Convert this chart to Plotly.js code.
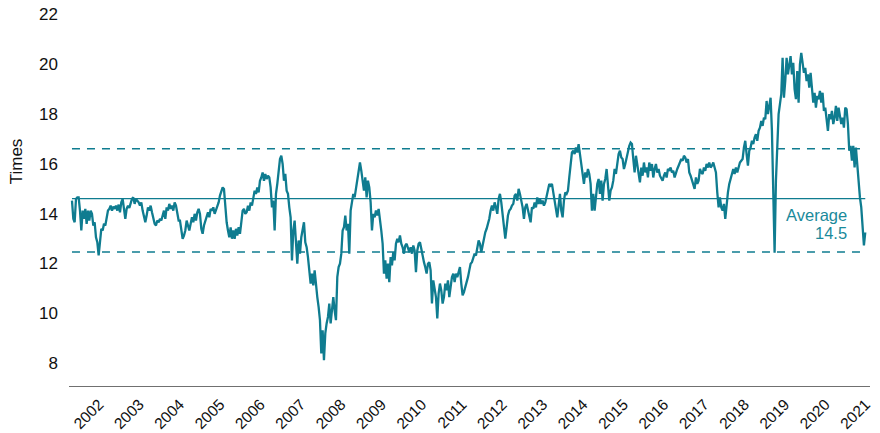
<!DOCTYPE html>
<html><head><meta charset="utf-8">
<script src="https://cdn.plot.ly/plotly-3.0.1.min.js"></script>
<style>html,body{margin:0;padding:0;background:#fff}#chart{width:880px;height:433px}</style>
</head><body><div id="chart"></div>
<script>
// Regularly sampled series: first observation and sampling interval
const startDate = '2001-05-01';
const intervalDays = 12.069;

// Forward P/E ("Times"), in time order
const peSeg2001 = [14.52,13.79,13.65,14.59,14.65,14.65,14.12,13.32,14.12,13.79,14.19,13.59,14.12,13.72,14.12,13.99,13.52,13.65,13.05,12.85,12.32,12.92,13.39,13.32,13.59,13.52,13.79,14.12,14.19,14.32,14.12,14.28,14.19,14.32,14.12,14.36,14.05,14.45,14.59,14.19,13.79,14.19,14.32,14.23,14.45,14.59,14.65,14.39,14.59,14.52,14.45,14.32,14.45,14.12,13.85,13.65,13.92,14.25,14.12,14.32,14.05,13.85,13.59,13.52,13.72,13.65,13.79,13.72,13.99,14.12,13.79,14.25,14.12,14.39,14.19,14.32,14.12,14.45,14.32,14.05,13.72];
const peSeg2004 = [13.72,13.32,12.99,13.12,13.32,13.72,13.45,13.32,13.59,13.85,13.65,13.99,13.72,14.05,14.19,13.99,13.39,13.19,13.52,13.72,13.92,14.05,13.85,14.19,14.12,14.25,13.99,14.12,14.32,14.45,14.72,14.92,15.05,14.99,14.19,13.65,13.32,13.05,13.45,12.99,13.32,12.99,13.39,13.12,13.45,13.19,13.65,14.12,14.19,13.99,14.05,14.32,14.12,14.45,14.32,14.65,14.92,14.79,15.05,14.85,15.32,15.45,15.65,15.32,15.59,15.39,15.52,15.45,15.05,14.25,14.52,13.32,14.79,15.19,15.79,16.19,16.32,15.99,15.32,15.59,14.92,14.79,14.25,13.85,12.12,13.32,13.72,12.92,11.99];
const peSeg2007 = [12.92,12.39,13.05,13.32,13.65,12.85,12.65,12.25,11.72,11.19,11.59,11.12,11.72,11.05,10.65,10.25,9.72,8.39,9.32,8.12,9.19,9.59,9.85,10.39,9.59,10.12,10.65,10.12,9.72,11.45,11.85,11.99,12.39,13.32,13.45,13.92,13.32,13.59,12.39,14.12,14.45,14.79,14.65,15.05,15.32,15.72,16.05,15.72,15.19,14.92,15.45,14.65,15.32,15.05,14.45,13.32,13.99,13.85,14.12,13.92,14.19,13.85,13.32,12.79,11.59,12.12,11.39,11.99,11.25,12.25,11.92,12.45,12.12,12.79,12.99,12.85,13.12,12.79,12.65,12.39,12.72,12.79,12.65];
const peSeg2010 = [12.45,12.65,12.39,12.72,12.52,11.65,12.52,12.79,12.85,12.59,12.25,12.05,11.85,11.59,11.99,12.05,11.72,10.39,11.32,10.92,10.65,9.79,10.79,11.19,10.92,10.39,10.65,11.19,10.92,11.32,10.65,11.05,11.45,11.59,11.25,11.59,11.45,11.65,11.85,11.19,10.72,10.85,11.05,11.19,11.45,11.72,11.99,12.05,12.19,12.39,12.32,12.59,12.92,12.79,12.45,12.72,13.05,13.25,13.39,13.59,13.79,14.12,14.32,14.12,14.45,14.25,13.99,14.59,14.79,14.45,13.92,13.32,12.99,13.45,13.92,14.12,14.19,14.32,14.39,14.72,14.79,14.52];
const peSeg2013 = [14.99,14.79,14.52,14.25,13.79,14.25,14.39,14.12,13.99,13.65,14.25,14.19,14.45,14.25,14.65,14.39,14.59,14.39,14.52,14.32,14.45,14.72,14.99,15.19,15.12,15.19,14.85,14.52,14.12,13.85,14.32,14.79,14.12,13.85,14.52,14.85,14.79,14.92,15.45,16.12,16.45,16.52,16.39,16.65,16.45,16.79,16.39,15.99,15.79,15.19,15.65,15.45,15.79,15.59,15.19,14.12,14.79,14.12,14.65,15.19,15.39,14.79,15.32,14.52,15.19,15.39,15.79,15.25,14.52,14.92,15.05,15.32,15.79,15.59,16.12,16.39,16.52,16.25,16.19,15.79,15.99,16.25];
const peSeg2016 = [16.52,16.72,16.85,16.79,16.19,15.65,16.32,15.99,15.72,15.25,15.85,15.52,16.05,15.65,15.85,15.45,16.05,15.72,15.99,15.45,15.79,15.99,15.65,15.79,15.52,15.39,15.32,15.52,15.65,15.45,15.79,15.72,15.85,15.65,15.72,15.45,15.65,15.79,15.92,16.05,16.19,16.12,16.32,16.25,16.05,16.19,15.65,15.52,15.32,15.19,14.99,15.45,15.19,15.32,15.79,15.65,15.59,15.85,15.72,15.99,15.85,16.05,15.85,15.92,16.05,15.85,15.65,14.85,14.25,14.65,14.25,14.12,14.39,13.79,14.52,14.85,15.19,15.39,15.65,15.79,15.59,15.85,15.65,15.85,16.05,16.12,16.19,16.65];
const peSeg2019 = [16.92,16.39,15.92,16.52,16.65,16.92,16.79,17.05,17.19,16.92,17.32,17.45,17.72,17.52,17.85,17.79,18.52,17.99,18.25,18.65,17.32,15.05,12.43,15.32,16.79,17.99,18.39,18.79,20.25,18.65,19.32,20.25,19.59,19.99,20.32,19.59,20.05,18.99,18.59,19.72,18.45,19.99,20.45,20.05,19.65,19.85,19.32,19.59,19.05,19.65,18.85,18.45,18.85,18.25,18.72,18.59,18.92,18.45,18.85,18.12,18.25,17.85,17.32,17.99,17.79,18.12,17.59,17.85,18.32,17.72,18.25,17.92,17.59,17.85,17.45,18.25,18.19,17.59,16.52,16.72,16.12,16.72,15.85,16.65,15.99,15.19,14.65,14.25,13.45,12.72,13.25];

// Reference levels
const averageValue = 14.6;
const upperBand = 16.6;
const lowerBand = 12.46;
const averageLabel = ['Average', '14.5'];

// Axis ticks
const yearLabels = ['2002','2003','2004','2005','2006','2007','2008','2009','2010','2011','2012','2013','2014','2015','2016','2017','2018','2019','2020','2021'];
const yTicks = [8,10,12,14,16,18,20,22];

const peRatio = [].concat(peSeg2001, peSeg2004, peSeg2007, peSeg2010, peSeg2013, peSeg2016, peSeg2019);
const t0 = Date.parse(startDate + 'T00:00:00Z');
const dates = peRatio.map((_, i) => new Date(t0 + i * intervalDays * 86400000).toISOString().slice(0, 19).replace('T', ' '));
const firstDate = dates[0], lastDate = dates[dates.length - 1];

const teal = '#0f7c90';
const refLine = (y, dash) => ({
  x: [firstDate, lastDate], y: [y, y], type: 'scatter', mode: 'lines',
  line: {color: teal, width: 1.4, dash: dash}, hoverinfo: 'skip', showlegend: false
});

const traces = [
  refLine(upperBand, '8px,7px'),
  refLine(lowerBand, '8px,7px'),
  refLine(averageValue, 'solid'),
  {x: dates, y: peRatio, type: 'scatter', mode: 'lines', line: {color: teal, width: 2.3}, showlegend: false}
];

const font = 'Liberation Sans, Arial, Helvetica, sans-serif';
const layout = {
  width: 880, height: 433,
  margin: {l: 69, r: 10, t: 14, b: 47},
  paper_bgcolor: '#fff', plot_bgcolor: '#fff',
  font: {family: font, color: '#111'},
  showlegend: false,
  xaxis: {
    type: 'date', range: ['2001-04-04', '2021-02-09'],
    tickvals: yearLabels.map(y => y + '-01-01'), ticktext: yearLabels,
    tickangle: -45, tickfont: {size: 15.5, family: font, color: '#111'},
    showgrid: false, zeroline: false, showline: true, linecolor: '#707070', linewidth: 1.3,
    ticks: '', ticklabelstandoff: 2
  },
  yaxis: {
    range: [7.08, 22.01], tickvals: yTicks, ticktext: yTicks.map(String),
    tickfont: {size: 17, family: font, color: '#111'},
    showgrid: false, zeroline: false, showline: false, ticks: '', ticklabelstandoff: 10
  },
  annotations: [
    {text: 'Times', xref: 'paper', yref: 'paper', x: -0.0645, y: 0.605, xanchor: 'center', yanchor: 'middle',
     textangle: -90, showarrow: false, font: {size: 17, family: font, color: '#111'}},
    {text: averageLabel[0], xref: 'paper', yref: 'paper', x: 0.974, y: (386 - 215) / 372, xanchor: 'right', yanchor: 'middle',
     showarrow: false, font: {size: 16.5, family: font, color: '#1a8a9b'}},
    {text: averageLabel[1], xref: 'paper', yref: 'paper', x: 0.974, y: (386 - 233) / 372, xanchor: 'right', yanchor: 'middle',
     showarrow: false, font: {size: 16.5, family: font, color: '#1a8a9b'}}
  ]
};

Plotly.newPlot('chart', traces, layout, {displayModeBar: false, staticPlot: true});
</script>
</body></html>
